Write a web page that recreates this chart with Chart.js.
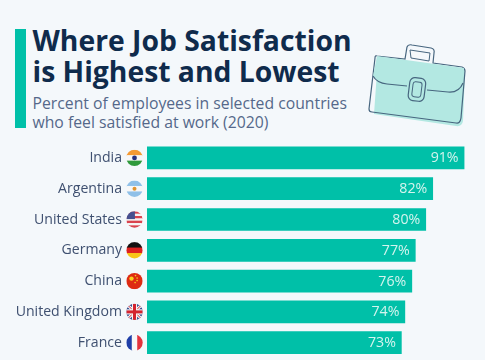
<!DOCTYPE html>
<html><head><meta charset="utf-8">
<script src="https://cdn.jsdelivr.net/npm/chart.js@4"></script>
<style>
html,body{margin:0;padding:0;background:#f4f8fb;overflow:hidden}
#wrap{position:relative;width:485px;height:360px;background:#f4f8fb;font-family:"Open Sans",sans-serif}
#accent{position:absolute;left:15px;top:29px;width:11px;height:99px;background:#00c0a8}
.t{position:absolute;left:32.5px;white-space:nowrap}
.h{font-size:28.3px;font-weight:700;color:#0f2b4c;line-height:32px}
.s{font-size:15.75px;color:#55688a;line-height:19px}
#cv{position:absolute;left:0;top:0}
#case{position:absolute;left:360px;top:25px}
</style></head><body>
<div id="wrap">
<div id="accent"></div>
<div class="t h" style="top:24px">Where Job Satisfaction</div>
<div class="t h" style="top:55px">is Highest and Lowest</div>
<div class="t s" style="top:94px">Percent of employees in selected countries</div>
<div class="t s" style="top:113px">who feel satisfied at work (2020)</div>
<svg id="case" width="125" height="110" viewBox="0 0 125 110">
<path d="M17 31L104 43L102 94Q101 100 95 99L13 87Z" fill="#b3e8e2" transform="translate(1,2)"/>
<path d="M17 31L45 34L47 22Q48 19 52 20L71 23Q75 24 74 28L73 38L102 42Q105 43 105 46L101 93Q100 99 96 98L12 87Q9 87 9 84L13 50L15 33Q15 30 17 31Z" fill="none" stroke="#47667f" stroke-width="1.2"/>
<path d="M50 25L70 28L69 36L51 33Z" fill="#f4f8fb" stroke="#47667f" stroke-width="1"/>
<path d="M17 31L104 43L102 58Q98 67 88 66L64 64L47 60L26 58Q16 56 13 51Z" fill="#b3e8e2"/>
<path d="M13 51Q17 58 27 59L47 61M67 65L88 67Q99 68 103 58" fill="none" stroke="#47667f" stroke-width="1.2"/>
<rect x="49" y="53" width="16" height="23" rx="5" transform="rotate(7 57 64)" fill="#b3e8e2" stroke="#47667f" stroke-width="1.2"/>
<rect x="52.5" y="57" width="9" height="15" rx="2.5" transform="rotate(7 57 64)" fill="#b3e8e2" stroke="#47667f" stroke-width="1"/>
</svg>
<canvas id="cv" width="485" height="360"></canvas>
</div>
<script>
const categories = ["India","Argentina","United States","Germany","China","United Kingdom","France"];
const satisfied = [91,82,80,77,76,74,73];
const flagCodes = ["in","ar","us","de","cn","gb","fr"];

function bands(c,x,y,r,cols){const h=2*r/cols.length;cols.forEach((k,i)=>{c.fillStyle=k;c.fillRect(x-r,y-r+i*h,2*r,h+0.5);});}
function vbands(c,x,y,r,cols){const w=2*r/cols.length;cols.forEach((k,i)=>{c.fillStyle=k;c.fillRect(x-r+i*w,y-r,w+0.5,2*r);});}
const flags={
 in(c,x,y,r){bands(c,x,y,r,["#f59a33","#f7f7f7","#2f9a3c"]);c.fillStyle="#27307f";c.beginPath();c.arc(x,y,2.4,0,7);c.fill();},
 ar(c,x,y,r){bands(c,x,y,r,["#8fc0e8","#f7f7f7","#8fc0e8"]);c.fillStyle="#e0932f";c.beginPath();c.arc(x,y,2,0,7);c.fill();},
 us(c,x,y,r){bands(c,x,y,r,["#d9434e","#f5f5f5","#d9434e","#f5f5f5","#d9434e","#f5f5f5","#d9434e"]);c.fillStyle="#46508f";c.fillRect(x-r,y-r,r*1.05,r*.95);},
 de(c,x,y,r){bands(c,x,y,r,["#111111","#dd2020","#f8c518"]);},
 cn(c,x,y,r){c.fillStyle="#de2b12";c.fillRect(x-r,y-r,2*r,2*r);c.fillStyle="#f8d020";c.beginPath();c.arc(x-3,y-2.5,2.2,0,7);c.fill();[[1,-5.5],[2.6,-3],[2.6,-.5],[.6,1.5]].forEach(p=>{c.beginPath();c.arc(x+p[0],y+p[1],.8,0,7);c.fill();});},
 gb(c,x,y,r){c.fillStyle="#2a3f86";c.fillRect(x-r,y-r,2*r,2*r);c.strokeStyle="#f5f5f5";c.lineWidth=3;c.beginPath();c.moveTo(x-r,y-r);c.lineTo(x+r,y+r);c.moveTo(x+r,y-r);c.lineTo(x-r,y+r);c.stroke();c.strokeStyle="#d4232f";c.lineWidth=1;c.stroke();c.fillStyle="#f5f5f5";c.fillRect(x-2.6,y-r,5.2,2*r);c.fillRect(x-r,y-2.6,2*r,5.2);c.fillStyle="#d4232f";c.fillRect(x-1.5,y-r,3,2*r);c.fillRect(x-r,y-1.5,2*r,3);},
 fr(c,x,y,r){vbands(c,x,y,r,["#1f3fa8","#f7f7f7","#e4323c"]);}
};
const flagPlugin={id:"flags",afterDraw(ch){const c=ch.ctx,ys=ch.scales.y;flagCodes.forEach((f,i)=>{const y=ys.getPixelForValue(i),x=134.5,r=8.2;c.save();c.beginPath();c.arc(x,y,r,0,7);c.clip();flags[f](c,x,y,r);c.restore();});}};
const valuePlugin={id:"vals",afterDatasetsDraw(ch){const c=ch.ctx;c.save();c.font='14.2px "Open Sans"';c.fillStyle="#d3f4ee";c.textAlign="right";c.textBaseline="middle";ch.getDatasetMeta(0).data.forEach((b,i)=>{c.fillText(satisfied[i]+"%",b.x-5.5,b.y+0.5);});c.restore();}};

new Chart(document.getElementById("cv"),{
 type:"bar",
 data:{labels:categories,datasets:[{data:satisfied,backgroundColor:"#00c0a8",borderWidth:0,barThickness:22}]},
 plugins:[flagPlugin,valuePlugin],
 options:{indexAxis:"y",responsive:false,animation:false,devicePixelRatio:1,
  layout:{padding:{left:0,right:0,top:142.5,bottom:1.9}},
  plugins:{legend:{display:false},tooltip:{enabled:false}},
  scales:{
   x:{min:0,max:97,display:false},
   y:{grid:{display:false,drawTicks:false},border:{display:false},
      ticks:{color:"#3f5070",font:{family:"Open Sans",size:14.1},padding:25,crossAlign:"near"},
      afterFit(s){s.width=147;s.paddingTop=0;s.paddingBottom=0;}}
  }
 }
});
</script>
</body></html>
